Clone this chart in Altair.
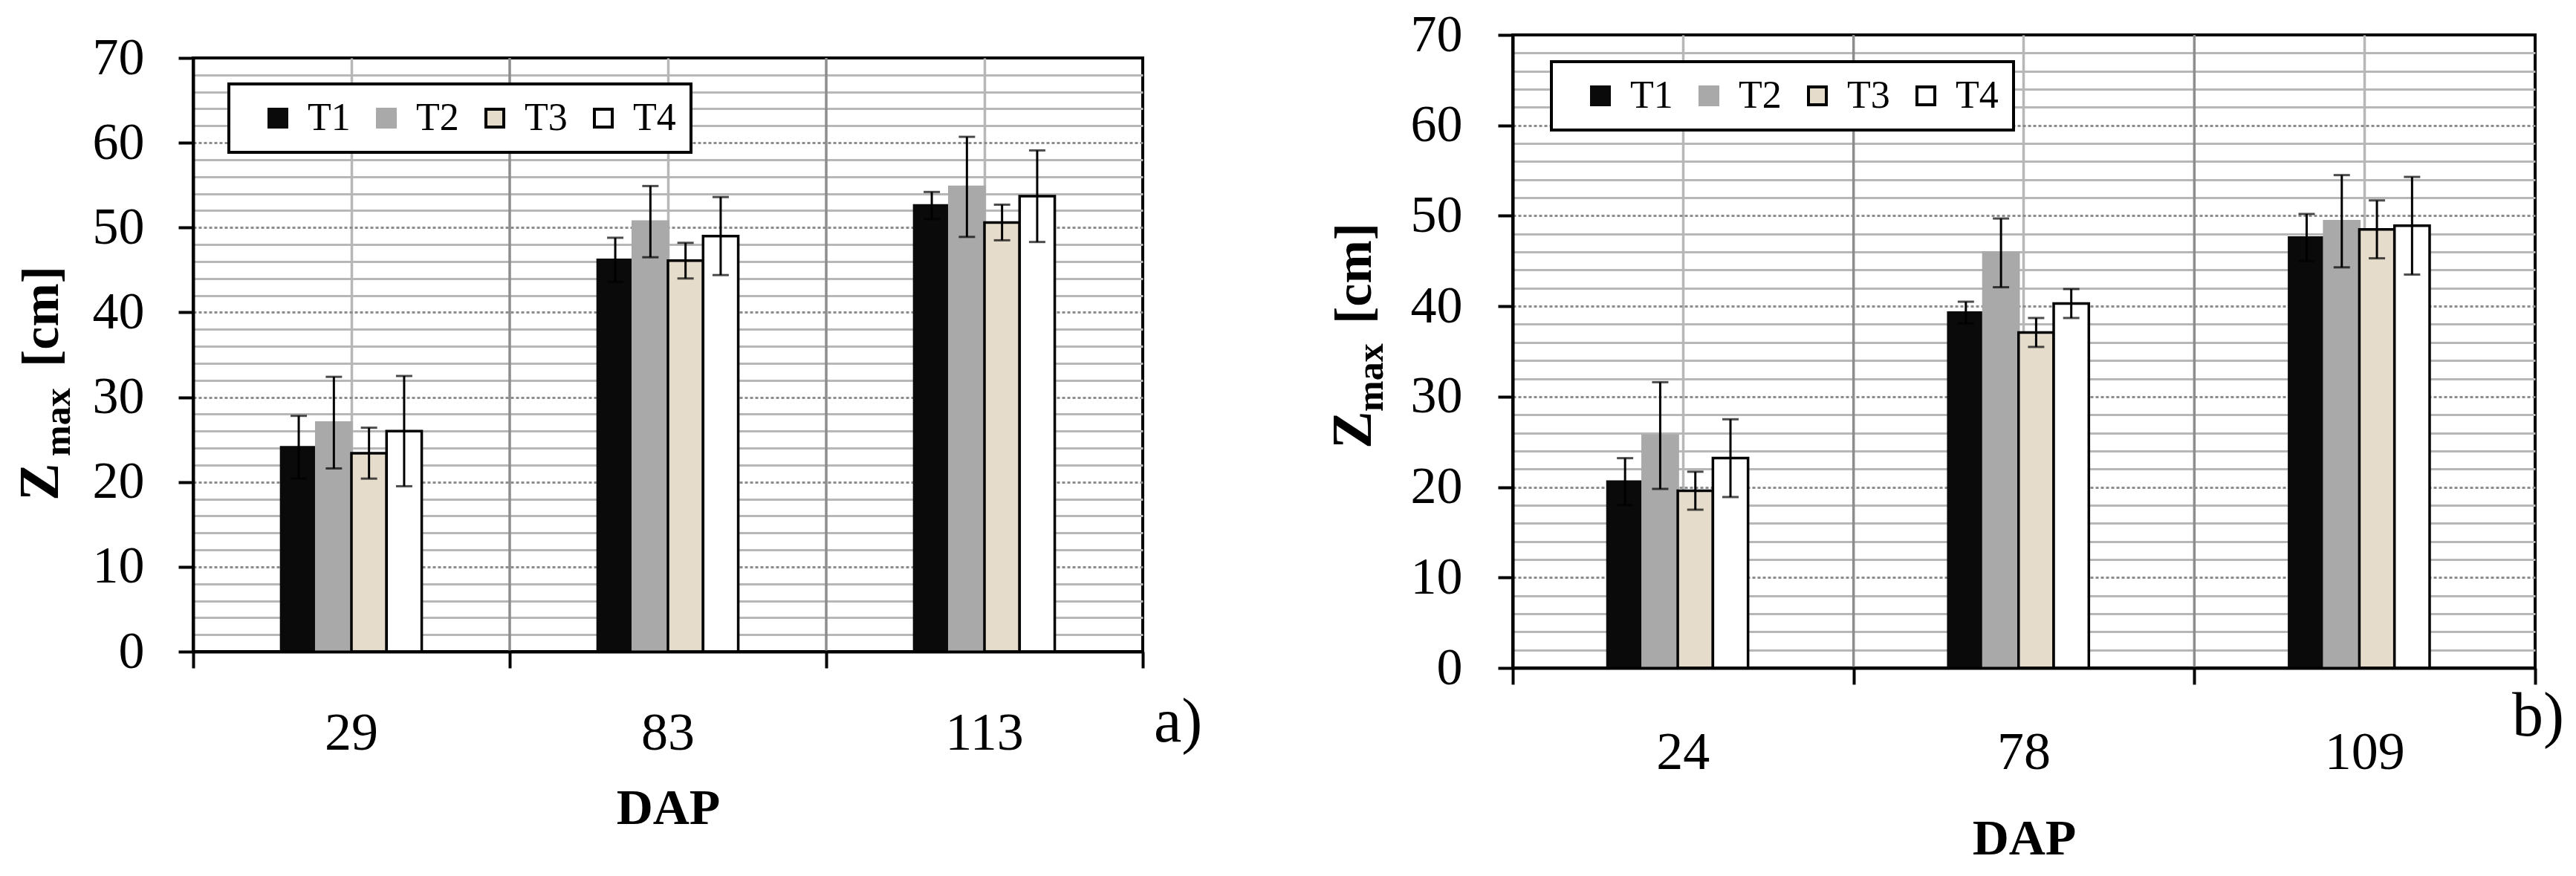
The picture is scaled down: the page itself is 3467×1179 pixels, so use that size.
import altair as alt
import pandas as pd

FONT = "Liberation Serif"

SERIES = ["T1", "T2", "T3", "T4"]
FILL_COLORS = ["#0a0a0a", "#a9a9a9", "#e6dccb", "#ffffff"]
STROKE_COLORS = ["#0a0a0a", "#a9a9a9", "#000000", "#000000"]

# panel a)
DAP_A = ["29", "83", "113"]
A_T1 = [24.1, 46.2, 52.6]
A_T2 = [27.0, 50.7, 54.8]
A_T3 = [23.4, 46.1, 50.6]
A_T4 = [26.0, 49.0, 53.7]
A_SD_T1 = [3.7, 2.6, 1.6]
A_SD_T2 = [5.4, 4.2, 5.9]
A_SD_T3 = [3.0, 2.1, 2.1]
A_SD_T4 = [6.5, 4.6, 5.4]

# panel b)
DAP_B = ["24", "78", "109"]
B_T1 = [20.6, 39.3, 47.6]
B_T2 = [25.7, 45.9, 49.4]
B_T3 = [19.6, 37.1, 48.5]
B_T4 = [23.2, 40.3, 48.9]
B_SD_T1 = [2.6, 1.2, 2.6]
B_SD_T2 = [5.9, 3.8, 5.1]
B_SD_T3 = [2.1, 1.6, 3.2]
B_SD_T4 = [4.3, 1.6, 5.4]

Y_MAX = 70
Y_TICKS = list(range(0, Y_MAX + 1, 2))
BOUNDARIES = [0, 1, 2, 3]

MAJOR = "datum.value % 10 === 0"
EDGE = f"datum.value === 0 || datum.value === {Y_MAX}"


def panel(cats, means, sds, letter, p):
    rows = []
    for s, m, sd in zip(SERIES, means, sds):
        for c, v, e in zip(cats, m, sd):
            rows.append({"DAP": c, "Series": s, "mean": v, "lo": v - e, "hi": v + e})
    df = pd.DataFrame(rows)

    yscale = alt.Scale(domain=[0, Y_MAX], nice=False, zero=True)
    yaxis = alt.Axis(
        values=Y_TICKS, title=None,
        labelExpr=f"{MAJOR} ? datum.label : ''",
        labelFont=FONT, labelFontSize=70, labelColor="black",
        labelPadding=p["ylp"], labelOverlap=False, labelBound=False,
        tickSize=20, tickWidth=4, tickColor="black",
        tickOpacity={"condition": {"test": MAJOR, "value": 1}, "value": 0},
        domain=True, domainColor="black", domainWidth=4,
        grid=True,
        gridColor={"condition": {"test": MAJOR, "value": "#8d8d8d"}, "value": "#b7b7b7"},
        gridDash={"condition": {"test": MAJOR, "value": [4, 3]}, "value": []},
        gridWidth=3,
        gridOpacity={"condition": {"test": EDGE, "value": 0}, "value": 1},
    )
    xaxis = alt.Axis(
        orient="bottom", title="DAP", titleFont=FONT, titleFontSize=68,
        titleFontWeight="bold", titleColor="black", titlePadding=p["tpad"],
        labelFont=FONT, labelFontSize=72, labelColor="black", labelAngle=0,
        labelPadding=p["xlp"], labelOverlap=False,
        ticks=False, tickSize=0, domain=False,
        grid=True, gridColor="#b7b7b7", gridWidth=3.5, bandPosition=0.5,
    )
    x_band = alt.X("DAP:N", sort=cats,
                   scale=alt.Scale(paddingInner=0.556, paddingOuter=0.278), axis=xaxis)
    x_off = alt.XOffset("Series:N", sort=SERIES, scale=alt.Scale(paddingInner=0, paddingOuter=0))

    leg = alt.Legend(
        orient="none", legendX=p["lx"], legendY=p["ly"], direction="horizontal",
        title=" ", titleOrient="left", titleFontSize=10, titlePadding=20,
        symbolType="square", symbolSize=24 ** 2, symbolStrokeWidth=4,
        labelFont=FONT, labelFontSize=52, labelColor="black",
        labelOffset=14, columnPadding=22, padding=20,
        strokeColor="black", fillColor="white", zindex=1,
    )
    fill = alt.Fill("Series:N", sort=SERIES, scale=alt.Scale(domain=SERIES, range=FILL_COLORS), legend=leg)
    stroke = alt.Stroke("Series:N", sort=SERIES, scale=alt.Scale(domain=SERIES, range=STROKE_COLORS), legend=leg)

    base = alt.Chart(df)
    bars = base.mark_bar(strokeWidth=3.5).encode(
        x=x_band, xOffset=x_off,
        y=alt.Y("mean:Q", scale=yscale, axis=yaxis),
        fill=fill, stroke=stroke,
    )
    err = base.mark_rule(color="black", strokeWidth=3).encode(
        x=x_band, xOffset=x_off,
        y=alt.Y("lo:Q", scale=yscale, axis=yaxis), y2="hi:Q",
    )
    caps = base.transform_fold(["lo", "hi"], as_=["end", "val"]).mark_tick(
        color="black", thickness=3, size=22, orient="horizontal"
    ).encode(
        x=x_band, xOffset=x_off,
        y=alt.Y("val:Q", scale=yscale, axis=yaxis),
    )
    inner = alt.layer(bars, err, caps)

    bdf = pd.DataFrame({"b": BOUNDARIES})
    bounds = alt.Chart(bdf).transform_filter(
        f"datum.b > 0 && datum.b < {len(cats)}"
    ).mark_rule(color="#8d8d8d", strokeWidth=3.5).encode(
        x=alt.X("b:Q", scale=alt.Scale(domain=[0, len(cats)], nice=False, zero=False),
                axis=alt.Axis(orient="bottom", values=BOUNDARIES, labels=False, title=None,
                              ticks=True, tickSize=22, tickWidth=4, tickColor="black",
                              domain=True, domainColor="black", domainWidth=4,
                              grid=False, zindex=1)),
    )

    def txt(s, x, y, size, weight="normal", angle=0):
        return alt.Chart(pd.DataFrame({"t": [s]})).mark_text(
            font=FONT, fontSize=size, fontWeight=weight, angle=angle,
            align="left", baseline="alphabetic", color="black",
        ).encode(text="t:N", x=alt.value(x), y=alt.value(y))

    t = p["title"]
    texts = [
        txt("Z", t["zx"], t["zy"], 76, "bold", 270),
        txt("max", t["mx"], t["my"], 50, "bold", 270),
        txt("[cm]", t["zx"], t["cy"], 70, "bold", 270),
        txt(letter, p["letx"], p["lety"], 84),
    ]
    ch = alt.layer(bounds, inner, *texts).resolve_scale(x="independent").properties(
        width=p["w"], height=p["h"]
    )
    return ch


PA = dict(w=1278, h=799, ylp=46, xlp=74, tpad=32, lx=48, ly=35, letx=1293, lety=920,
          title=dict(zx=-182, zy=596, mx=-166, my=536, cy=416))
PB = dict(w=1376, h=852, ylp=48, xlp=78, tpad=47, lx=52, ly=36, letx=1345, lety=943,
          title=dict(zx=-191, zy=557, mx=-175, my=507, cy=389))

left = panel(DAP_A, [A_T1, A_T2, A_T3, A_T4], [A_SD_T1, A_SD_T2, A_SD_T3, A_SD_T4], "a)", PA)
right = panel(DAP_B, [B_T1, B_T2, B_T3, B_T4], [B_SD_T1, B_SD_T2, B_SD_T3, B_SD_T4], "b)", PB)

# invisible 1px spacer that lowers panel a) relative to panel b)
spacer = alt.Chart(pd.DataFrame({"t": [""]})).mark_text().encode(text="t:N").properties(
    width=1, height=1, view=alt.ViewBackground(stroke="transparent", strokeWidth=0)
)
left_col = alt.vconcat(spacer, left, spacing=-12).resolve_legend(
    fill="independent", stroke="independent"
)

chart = alt.hconcat(left_col, right, spacing=161).resolve_scale(
    fill="independent", stroke="independent"
).resolve_legend(
    fill="independent", stroke="independent"
).properties(
    padding={"left": 7, "top": 2, "right": 0, "bottom": 0}
).configure_view(
    stroke="black", strokeWidth=4
).configure_legend(
    strokeWidth=4
)

chart.save("out.html", embed_options={"renderer": "svg", "actions": False})
